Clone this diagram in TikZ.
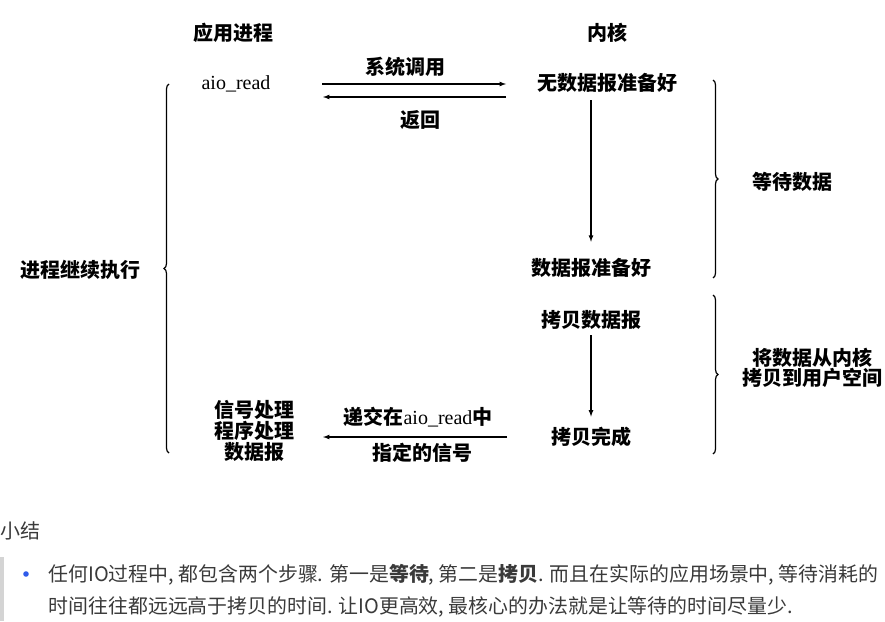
\documentclass[tikz,border=0pt]{standalone}
\usepackage{fontspec}
\setmainfont{Liberation Serif}
\newfontfamily\cjk{Noto Sans CJK SC}
\usetikzlibrary{decorations.pathreplacing}
\definecolor{textgray}{HTML}{3A3A3A}
\definecolor{bargray}{HTML}{D4D4D4}
\definecolor{dotblue}{HTML}{2F5BEA}

\begin{document}
\begin{tikzpicture}[x=1pt,y=-1pt,>=latex,line width=1.2pt,
  zh/.style={font=\cjk\bfseries\fontsize{20}{21}\selectfont,inner sep=0pt,align=center},
  en/.style={font=\fontsize{20}{21}\selectfont,inner sep=0pt},
  curly/.style={decorate,decoration={brace,amplitude=5pt}},
  note/.style={font=\cjk\fontsize{19.9}{22}\selectfont,text=textgray,anchor=west,inner sep=0pt}]
  \useasboundingbox (0,0) rectangle (885,621);
  \node[zh] (app) at (233,33) {应用进程};
  \node[zh] (kern) at (607,33) {内核};
  \node[en] (aio) at (236,84) {aio\_read};
  \node[zh] (nodata) at (607,83) {无数据报准备好};
  \node[zh] (ready) at (591,268) {数据报准备好};
  \node[zh] (copy) at (591,320) {拷贝数据报};
  \node[zh] (done) at (591,437) {拷贝完成};
  \node[zh] (handler) at (254,431) {信号处理\\程序处理\\数据报};
  \node[zh] (wait) at (792,182) {等待数据};
  \node[zh,font=\cjk\bfseries\fontsize{20}{20}\selectfont] (move) at (812,368) {将数据从内核\\拷贝到用户空间};
  \node[zh] (cont) at (80,270) {进程继续执行};
  % call / return
  \coordinate (callL) at (322,84);
  \coordinate (callR) at (506,84);
  \coordinate (retR) at (506,97);
  \coordinate (retL) at (323,97);
  \draw[->] (callL) -- (callR);
  \draw[->] (retR) -- (retL);
  \node[zh] (call) at (405,67) {系统调用};
  \node[zh] (ret) at (420,120) {返回};
  \draw[->,shorten <=7pt,shorten >=16pt] (nodata.south -| ready) -- (ready.north);
  \draw[->,shorten <=5pt,shorten >=10pt] (copy) -- (done);
  % signal
  \coordinate (sigR) at (507,437);
  \coordinate (sigL) at (323,437);
  \draw[->] (sigR) -- (sigL);
  \node[zh] (deliver) at (418,417) {递交在{\rmfamily\mdseries aio\_read}中};
  \node[zh] (signal) at (422,453) {指定的信号};
  % braces
  \draw[curly] (713,80) -- (713,278);
  \draw[curly] (713,295) -- (713,454);
  \draw[curly] (169,453) -- (169,84);
  % summary
  \node[note,font=\cjk\fontsize{20}{22}\selectfont] (sum) at (0,531) {小结};
  \fill[bargray] (0,557) rectangle (3.5,621);
  \fill[dotblue] (26,574) circle (2.8);
  \node[note] (line1) at (48,575) {任何IO过程中, 都包含两个步骤. 第一是{\bfseries 等待}, 第二是{\bfseries 拷贝}. 而且在实际的应用场景中, 等待消耗的};
  \node[note] (line2) at (48,607) {时间往往都远远高于拷贝的时间. 让IO更高效, 最核心的办法就是让等待的时间尽量少.};
\end{tikzpicture}
\end{document}
